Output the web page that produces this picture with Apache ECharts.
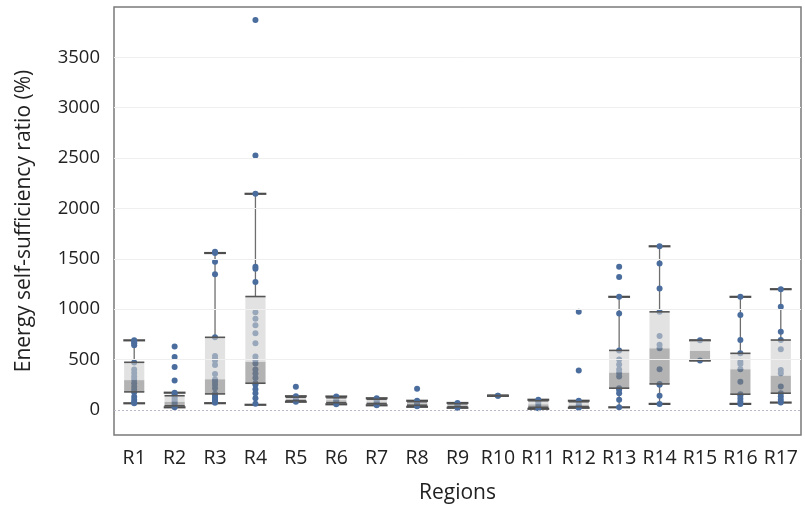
<!DOCTYPE html>
<html>
<head>
<meta charset="utf-8">
<script src="https://cdn.jsdelivr.net/npm/echarts@6/dist/echarts.min.js"></script>
<style>html,body{margin:0;padding:0;background:#fff}#c{width:805px;height:510px}</style>
</head>
<body>
<div id="c"></div>
<script>
const categories = ['R1','R2','R3','R4','R5','R6','R7','R8','R9','R10','R11','R12','R13','R14','R15','R16','R17'];
const mins    = [65, 25, 66, 50, 80, 55, 45, 30, 20, 140, 10, 20, 25, 59, 490, 59, 72];
const q1s     = [178, 40, 158, 264, 90, 70, 60, 45, 30, 140, 25, 30, 215, 257, 490, 155, 165];
const medians = [295, 80, 304, 478, 105, 95, 80, 65, 45, 140, 55, 50, 370, 611, 585, 403, 340];
const q3s     = [472, 140, 720, 1125, 125, 120, 105, 80, 60, 140, 90, 80, 590, 973, 690, 561, 693];
const maxs    = [690, 170, 1557, 2145, 135, 132, 115, 90, 68, 140, 100, 90, 1122, 1624, 690, 1122, 1198];
const pR1  = [690, 675, 660, 640, 470, 400, 365, 330, 300, 265, 230, 200, 175, 130, 100, 75, 65];
const pR2  = [630, 525, 425, 290, 170, 150, 130, 110, 90, 70, 50, 35, 25];
const pR3  = [1570, 1557, 1470, 1345, 720, 535, 510, 490, 445, 355, 300, 280, 248, 215, 160, 140, 120, 100, 85, 70];
const pR4  = [3870, 2525, 2145, 1420, 1400, 1270, 970, 905, 840, 760, 660, 530, 495, 460, 400, 360, 315, 265, 248, 205, 165, 115, 60];
const pR5  = [230, 135, 110, 90, 80];
const pR6  = [132, 120, 95, 75, 55];
const pR7  = [115, 95, 75, 55, 45];
const pR8  = [210, 90, 75, 60, 45, 35];
const pR9  = [68, 55, 40, 25, 20];
const pR10 = [140, 140];
const pR11 = [100, 85, 60, 30, 15];
const pR12 = [975, 390, 90, 70, 45, 30, 20];
const pR13 = [1420, 1320, 1122, 957, 590, 500, 450, 400, 365, 330, 215, 200, 165, 100, 25];
const pR14 = [1624, 1452, 1205, 973, 733, 645, 611, 403, 257, 248, 139, 59];
const pR15 = [690, 490];
const pR16 = [1122, 941, 693, 561, 478, 455, 403, 280, 155, 140, 110, 80, 59];
const pR17 = [1198, 1023, 775, 693, 601, 396, 363, 231, 165, 132, 100, 72];
const points = [pR1,pR2,pR3,pR4,pR5,pR6,pR7,pR8,pR9,pR10,pR11,pR12,pR13,pR14,pR15,pR16,pR17];
const gridValues = [500, 1000, 1500, 2000, 2500, 3000, 3500];

const FONT = 'Open Sans';
const boxData = categories.map((c, i) => [i, mins[i], q1s[i], medians[i], q3s[i], maxs[i]]);
const scatterData = [];
points.forEach((arr, i) => arr.forEach(v => scatterData.push([i, v])));

function whiskers(params, api) {
  const i = api.value(0);
  const pMin = api.coord([i, api.value(1)]);
  const pQ1 = api.coord([i, api.value(2)]);
  const pQ3 = api.coord([i, api.value(4)]);
  const pMax = api.coord([i, api.value(5)]);
  const bw = api.size([1, 0])[0] * 0.54;
  const x = pMin[0];
  return {
    type: 'group',
    children: [
      {type: 'line', shape: {x1: x, y1: pQ3[1], x2: x, y2: pMax[1]}, style: {stroke: '#6e6e6e', lineWidth: 1.3}},
      {type: 'line', shape: {x1: x, y1: pQ1[1], x2: x, y2: pMin[1]}, style: {stroke: '#6e6e6e', lineWidth: 1.3}},
      {type: 'line', shape: {x1: x - bw/2, y1: pMax[1], x2: x + bw/2, y2: pMax[1]}, style: {stroke: '#4d4d4d', lineWidth: 2.2}},
      {type: 'line', shape: {x1: x - bw/2, y1: pMin[1], x2: x + bw/2, y2: pMin[1]}, style: {stroke: '#4d4d4d', lineWidth: 2.2}}
    ]
  };
}
function boxes(params, api) {
  const i = api.value(0);
  const pQ1 = api.coord([i, api.value(2)]);
  const pMed = api.coord([i, api.value(3)]);
  const pQ3 = api.coord([i, api.value(4)]);
  const bw = api.size([1, 0])[0] * 0.5;
  const x = pQ1[0];
  return {
    type: 'group',
    children: [
      {type: 'rect', shape: {x: x - bw/2, y: pMed[1], width: bw, height: pQ1[1] - pMed[1]}, style: {fill: 'rgba(128,128,128,0.6)'}},
      {type: 'rect', shape: {x: x - bw/2, y: pQ3[1], width: bw, height: pMed[1] - pQ3[1]}, style: {fill: 'rgba(206,206,206,0.6)'}},
      {type: 'line', shape: {x1: x - bw/2, y1: pQ3[1], x2: x + bw/2, y2: pQ3[1]}, style: {stroke: '#555', lineWidth: 1.6}},
      {type: 'line', shape: {x1: x - bw/2, y1: pQ1[1], x2: x + bw/2, y2: pQ1[1]}, style: {stroke: '#555', lineWidth: 1.6}}
    ]
  };
}

const chart = echarts.init(document.getElementById('c'), null, {renderer: 'canvas'});
chart.setOption({
  animation: false,
  backgroundColor: '#fff',
  grid: {left: 114, right: 4, top: 7, bottom: 75, show: true, borderColor: '#7a7a7a', borderWidth: 1.5, backgroundColor: 'transparent'},
  xAxis: {
    type: 'category', data: categories,
    axisTick: {show: false}, axisLine: {show: false},
    axisLabel: {fontFamily: FONT, fontSize: 19.5, color: '#222', margin: 13, interval: 0},
    name: 'Regions', nameLocation: 'middle', nameGap: 48,
    nameTextStyle: {fontFamily: FONT, fontSize: 21, color: '#222'}
  },
  yAxis: {
    type: 'value', min: -250, max: 4000, interval: 250,
    axisTick: {show: false}, axisLine: {show: false}, splitLine: {show: false},
    axisLabel: {fontFamily: FONT, fontSize: 18.5, color: '#222', margin: 14,
      formatter: v => (v >= 0 && v % 500 === 0 && v <= 3500) ? String(v) : ''},
    name: 'Energy self-sufficiency ratio (%)', nameLocation: 'middle', nameGap: 79, nameRotate: 90,
    nameTextStyle: {fontFamily: FONT, fontSize: 21, color: '#222'}
  },
  series: [
    {
      type: 'custom', renderItem: whiskers, data: boxData, z: 1,
      encode: {x: 0, y: [1, 2, 3, 4, 5]},
      markLine: {
        silent: true, symbol: 'none', label: {show: false},
        data: gridValues.map(v => ({yAxis: v, lineStyle: {color: '#efefef', type: 'solid', width: 1}}))
          .concat([{yAxis: 0, lineStyle: {color: '#b8b8c8', type: [2, 2], width: 1}}])
      }
    },
    {
      type: 'scatter', data: scatterData, z: 2, symbolSize: 6,
      itemStyle: {color: '#4a6d9e', opacity: 1}
    },
    {
      type: 'custom', renderItem: boxes, data: boxData, z: 3,
      encode: {x: 0, y: [1, 2, 3, 4, 5]}
    }
  ]
});
</script>
</body>
</html>
